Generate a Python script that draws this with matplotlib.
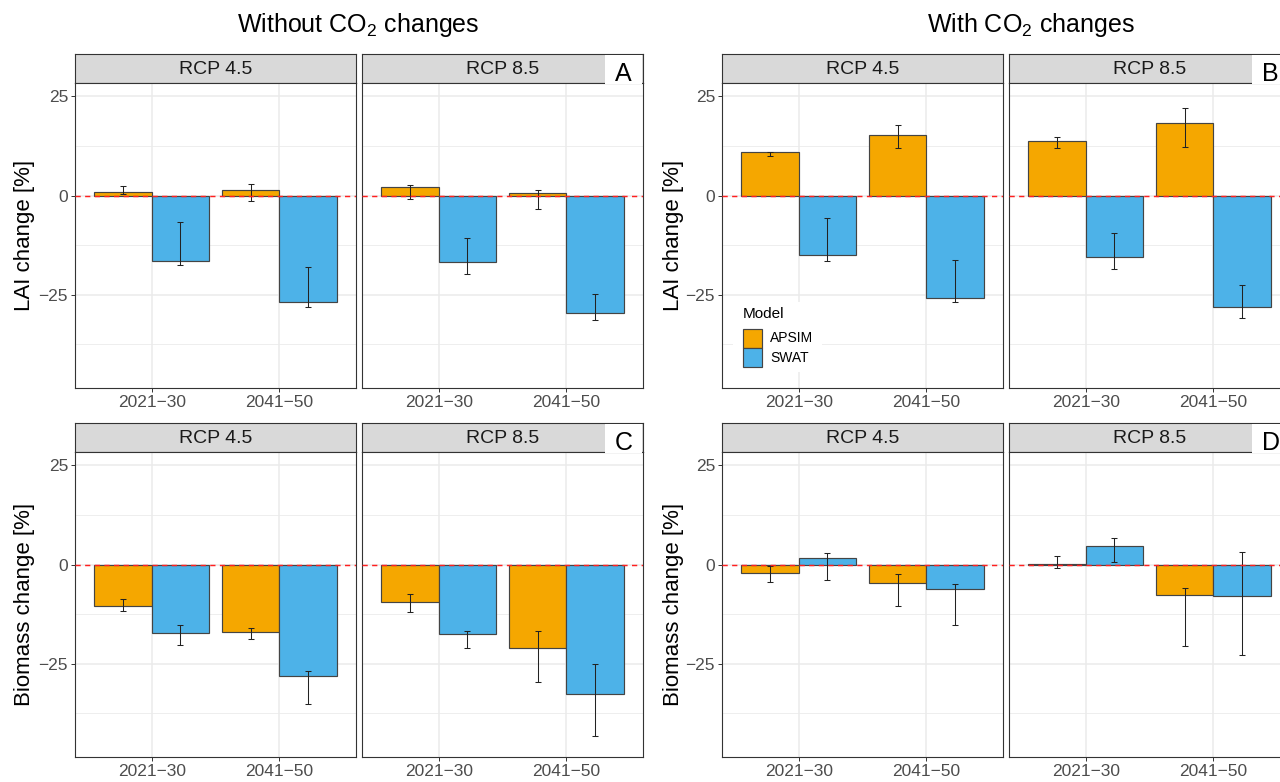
import numpy as np
import matplotlib
matplotlib.use("Agg")
import matplotlib.pyplot as plt
from matplotlib.patches import Rectangle

plt.rcParams['font.family'] = ['Liberation Sans', 'DejaVu Sans']
plt.rcParams['mathtext.fontset'] = 'custom'
plt.rcParams['mathtext.rm'] = 'Liberation Sans'
plt.rcParams['mathtext.it'] = 'Liberation Sans:italic'

periods = ["2021\u221230", "2041\u221250"]
scenarios = ["RCP 4.5", "RCP 8.5"]
models = ["APSIM", "SWAT"]
model_colors = ["#F5A700", "#4DB2E8"]

# values indexed [scenario][period][model]
lai_no_co2 = [[[0.8, -16.6], [1.5, -26.7]], [[2.3, -16.7], [0.7, -29.5]]]
lai_no_co2_lo = [[[0.5, -17.4], [-1.35, -28.2]], [[-0.85, -19.7], [-3.3, -31.4]]]
lai_no_co2_hi = [[[2.4, -6.7], [3.0, -18.0]], [[2.6, -10.8], [1.5, -24.7]]]

lai_co2 = [[[10.9, -14.9], [15.2, -25.8]], [[13.9, -15.5], [18.2, -28.2]]]
lai_co2_lo = [[[9.9, -16.6], [11.9, -26.9]], [[11.9, -18.4], [12.2, -30.8]]]
lai_co2_hi = [[[11.1, -5.6], [17.7, -16.3]], [[14.9, -9.5], [22.0, -22.5]]]

bio_no_co2 = [[[-10.4, -17.3], [-17.0, -28.0]], [[-9.5, -17.5], [-20.9, -32.6]]]
bio_no_co2_lo = [[[-11.6, -20.2], [-18.8, -35.2]], [[-12.0, -20.9], [-29.5, -43.2]]]
bio_no_co2_hi = [[[-8.75, -15.2], [-15.9, -26.9]], [[-7.4, -16.8], [-16.8, -25.1]]]

bio_co2 = [[[-2.1, 1.7], [-4.7, -6.1]], [[0.1, 4.6], [-7.6, -8.0]]]
bio_co2_lo = [[[-4.5, -3.9], [-10.4, -15.1]], [[-0.9, 0.7], [-20.5, -22.8]]]
bio_co2_hi = [[[-0.25, 3.0], [-2.3, -5.0]], [[2.2, 6.8], [-5.8, 3.2]]]

W, H = 1280, 782
fig = plt.figure(figsize=(W / 100, H / 100), dpi=100)


def fx(x):
    return x / W


def fy(y):
    return 1 - y / H


def add_box(x0, y0, x1, y1, **kw):
    return fig.add_axes([fx(x0), fy(y1), (x1 - x0) / W, (y1 - y0) / H], **kw)


def fig_rect(x0, y0, x1, y1, **kw):
    r = Rectangle((fx(x0), fy(y1)), (x1 - x0) / W, (y1 - y0) / H,
                  transform=fig.transFigure, **kw)
    fig.patches.append(r)
    return r


def draw_facet(x0, x1, strip_top, top, bottom, title, vals, lo, hi, show_y):
    # strip on top of the panel
    sax = add_box(x0, strip_top, x1, top)
    sax.set_facecolor("#D9D9D9")
    sax.set_xticks([])
    sax.set_yticks([])
    for s in sax.spines.values():
        s.set_color("#333333")
        s.set_linewidth(0.8)
    sax.text(0.5, 0.48, title, ha="center", va="center", fontsize=14,
             color="#1A1A1A", transform=sax.transAxes)

    ax = add_box(x0, top, x1, bottom)
    ax.set_xlim(0.4, 2.6)
    ax.set_ylim(-48.5, 28.4)
    ax.set_yticks([-25, 0, 25])
    ax.set_yticks([-37.5, -12.5, 12.5], minor=True)
    ax.set_xticks([1, 2])
    ax.set_xticklabels(periods)
    ax.grid(True, which="major", color="#EBEBEB", lw=1.1, zorder=0)
    ax.grid(True, which="minor", axis="y", color="#EBEBEB", lw=0.6, zorder=0)
    ax.set_axisbelow(True)
    ax.tick_params(axis="both", which="major", length=3, width=0.7, color="#333333",
                   labelsize=12.5, labelcolor="#4D4D4D", pad=2)
    ax.tick_params(axis="y", which="minor", length=0)
    if show_y:
        ax.set_yticklabels(["\u221225", "0", "25"])
    else:
        ax.tick_params(axis="y", which="major", length=0, labelleft=False)
    for s in ax.spines.values():
        s.set_color("#333333")
        s.set_linewidth(0.8)

    vals = np.array(vals)
    lo = np.array(lo)
    hi = np.array(hi)
    xpos = np.arange(1, len(periods) + 1)
    for m in range(len(models)):
        xm = xpos + (m - 0.5) * 0.45
        ax.bar(xm, vals[:, m], width=0.45, color=model_colors[m],
               edgecolor="#444444", linewidth=0.85, zorder=2)
        ax.errorbar(xm, lo[:, m], yerr=[np.zeros(len(xm)), hi[:, m] - lo[:, m]],
                    fmt="none", ecolor="#222222", elinewidth=0.75, capsize=2.2,
                    capthick=0.75, zorder=3)
    ax.axhline(0, color="#FF2020", lw=1.05, linestyle=(0, (3.6, 3)), zorder=4)
    return ax


blocks = [
    (75, 356, 362, 643),
    (722, 1003, 1009, 1290),
]
rows = [
    (54, 83, 388),
    (423, 452, 757),
]
panels = [
    [(lai_no_co2, lai_no_co2_lo, lai_no_co2_hi, "A"),
     (lai_co2, lai_co2_lo, lai_co2_hi, "B")],
    [(bio_no_co2, bio_no_co2_lo, bio_no_co2_hi, "C"),
     (bio_co2, bio_co2_lo, bio_co2_hi, "D")],
]
ylabels = ["LAI change [%]", "Biomass change [%]"]
ylabel_x = [25, 673]

for r, (strip_top, top, bottom) in enumerate(rows):
    for b, (a0, a1, b0, b1) in enumerate(blocks):
        vals, lo, hi, letter = panels[r][b]
        for k, (x0, x1) in enumerate([(a0, a1), (b0, b1)]):
            draw_facet(x0, x1, strip_top, top, bottom, scenarios[k],
                       vals[k], lo[k], hi[k], show_y=(k == 0))
        # panel letter in a white box at the right end of the strip
        fig_rect(b1 - 38, strip_top + 1, b1 - 1, top + 1,
                 facecolor="white", edgecolor="none", zorder=10)
        fig.text(fx(b1 - 19.5), fy(strip_top + 20), letter, ha="center", va="center",
                 fontsize=18, color="black", zorder=11)
        fig.text(fx(ylabel_x[b]), fy((top + bottom) / 2), ylabels[r], rotation=90,
                 ha="center", va="center", fontsize=16, color="black")

fig.text(fx(358), fy(25), "Without CO$_2$ changes", ha="center", va="center", fontsize=18)
fig.text(fx(1031), fy(25), "With CO$_2$ changes", ha="center", va="center", fontsize=18)

# model legend inside the upper right block
fig_rect(733, 302, 822, 372, facecolor="white", edgecolor="none", zorder=5)
fig.text(fx(743), fy(314), "Model", ha="left", va="center", fontsize=11, zorder=6)
for i, (name, col) in enumerate(zip(models, model_colors)):
    y0 = 329 + i * 19
    fig_rect(743, y0, 762, y0 + 19, facecolor=col, edgecolor="#444444",
             linewidth=0.85, zorder=6)
    fig.text(fx(770), fy(y0 + 9.5), name, ha="left", va="center", fontsize=10, zorder=6)

fig.savefig("out.png", dpi=100)
